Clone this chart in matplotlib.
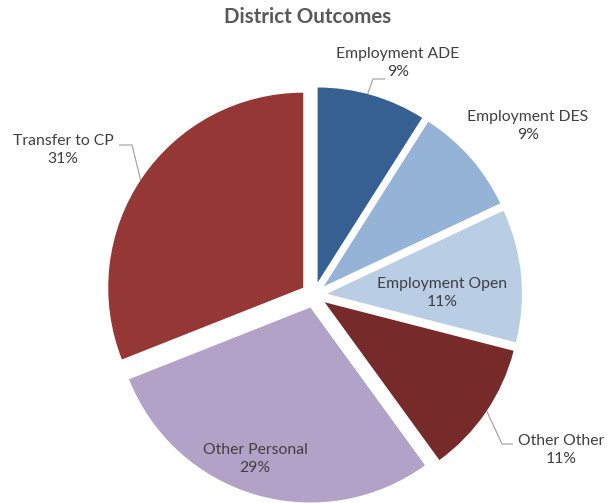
import numpy as np
import matplotlib
matplotlib.use('Agg')
import matplotlib.pyplot as plt

W, H = 607, 503

labels = ['Employment ADE', 'Employment DES', 'Employment Open',
          'Other Other', 'Other Personal', 'Transfer to CP']
values = [9, 9, 11, 11, 29, 31]
colors = ['#366092', '#95B3D7', '#B9CDE5', '#772A2A', '#B3A2C7', '#953735']

# label centres in pixels (x, y from top)
label_pos = [(398, 63), (528, 126), (442, 293), (561, 450), (255, 459), (63, 150)]
# leader lines for outside labels: point near wedge, knee point, end point (pixels)
leaders = {
    0: ((368, 93), (373, 79), (385, 79)),
    3: ((488, 412), (502, 444), (513, 444)),
    5: ((140, 180), (132, 145), (119, 145)),
}

plt.rcParams['font.family'] = ['Lato', 'DejaVu Sans']

fig = plt.figure(figsize=(W / 100, H / 100), dpi=100)
ax = fig.add_axes([0, 0, 1, 1])

cx, cy, R = 314, H - 295, 195
wedges, _ = ax.pie(values, colors=colors, startangle=90, counterclock=False,
                   radius=R, center=(cx, cy), explode=[13] * len(values),
                   wedgeprops=dict(linewidth=0))

ax.set_xlim(0, W)
ax.set_ylim(0, H)
ax.set_aspect('equal')
ax.axis('off')

total = sum(values)
for i, (w, lab, v) in enumerate(zip(wedges, labels, values)):
    x, y = label_pos[i]
    ax.text(x, H - y, '%s\n%d%%' % (lab, round(100 * v / total)), ha='center', va='center',
            fontsize=11.3, color='#404040', linespacing=1.45)
    if i in leaders:
        near, knee, end = leaders[i]
        # snap the start of the leader onto the wedge's arc
        wx, wy = w.center
        ang = np.radians(np.linspace(w.theta1, w.theta2, 400))
        px = wx + w.r * np.cos(ang)
        py = wy + w.r * np.sin(ang)
        k = np.argmin((px - near[0]) ** 2 + (py - (H - near[1])) ** 2)
        ax.plot([px[k], knee[0], end[0]], [py[k], H - knee[1], H - end[1]],
                color='#A6A6A6', lw=0.9, solid_capstyle='butt')

ax.text(308, H - 17, 'District Outcomes', ha='center', va='center',
        fontsize=14.8, fontweight='bold', color='#595959')

fig.savefig('out.png', dpi=100)
